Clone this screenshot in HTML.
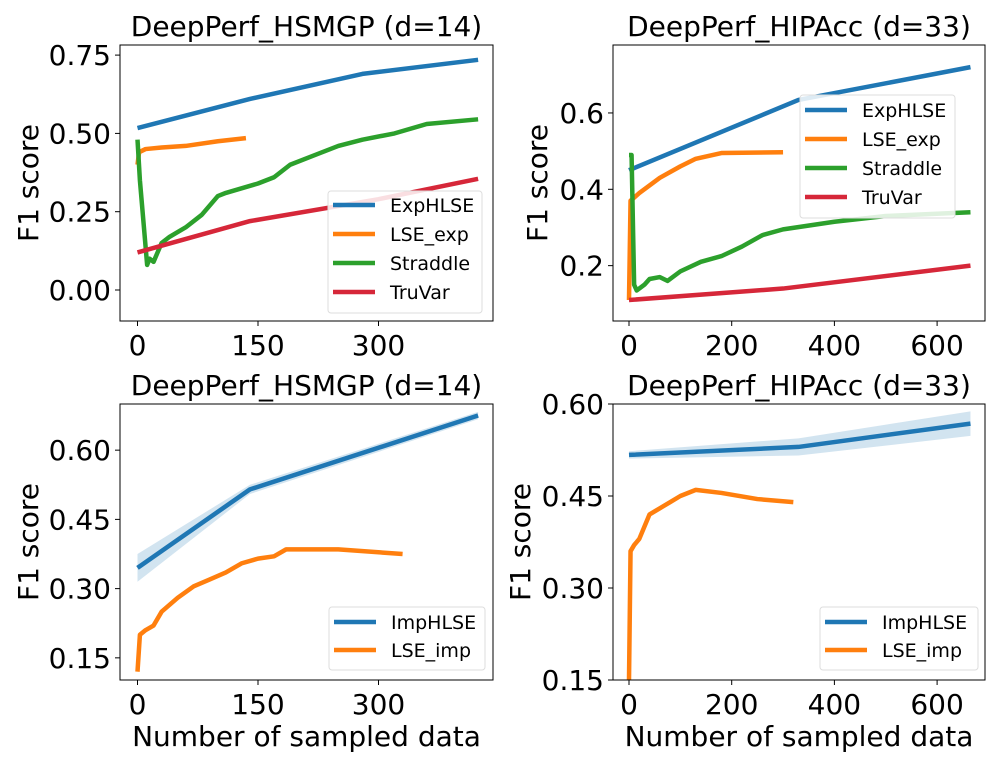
<!DOCTYPE html>
<html><head><meta charset="utf-8">
<style>
html,body{margin:0;padding:0;background:#fff;}
svg{display:block;font-family:"DejaVu Sans","Liberation Sans",sans-serif;}
</style></head>
<body>
<svg id="fig" width="1000" height="759" viewBox="0 0 1000 759" xmlns="http://www.w3.org/2000/svg"></svg>
<script>
// ---------- data ----------
const p1ExpX=[0,140,280,424], p1ExpY=[0.517,0.61,0.69,0.735];
const p1LseX=[0,2,10,30,60,100,135], p1LseY=[0.40,0.44,0.45,0.455,0.46,0.475,0.485];
const p1StrX=[0,3,8,12,15,20,30,40,60,80,100,110,150,170,190,220,250,280,320,360,424];
const p1StrY=[0.48,0.35,0.2,0.08,0.1,0.09,0.15,0.17,0.2,0.24,0.3,0.31,0.34,0.36,0.4,0.43,0.46,0.48,0.5,0.53,0.545];
const p1TruX=[0,140,300,424], p1TruY=[0.12,0.22,0.29,0.355];

const p2ExpX=[0,330,665], p2ExpY=[0.45,0.634,0.72];
const p2LseX=[0,3,20,60,100,130,180,300], p2LseY=[0.11,0.37,0.39,0.43,0.46,0.48,0.495,0.497];
const p2StrX=[0,5,10,15,30,40,60,75,100,140,180,220,260,300,400,500,665];
const p2StrY=[0.49,0.49,0.15,0.135,0.15,0.165,0.17,0.16,0.185,0.21,0.225,0.25,0.28,0.295,0.315,0.33,0.34];
const p2TruX=[0,300,665], p2TruY=[0.11,0.14,0.2];

const p3ImpX=[0,140,424], p3ImpY=[0.345,0.515,0.675], p3ImpBand=[0.03,0.01,0.008];
const p3LseX=[0,3,10,20,30,50,70,90,110,130,150,170,185,250,330];
const p3LseY=[0.12,0.2,0.21,0.22,0.25,0.28,0.305,0.32,0.335,0.355,0.365,0.37,0.385,0.385,0.375];

const p4ImpX=[0,330,665], p4ImpY=[0.517,0.53,0.568], p4ImpBand=[0.006,0.014,0.02];
const p4LseX=[0,3,10,20,40,60,80,100,130,180,250,320];
const p4LseY=[0.15,0.36,0.37,0.38,0.42,0.43,0.44,0.45,0.46,0.455,0.445,0.44];

const xTicksA=[0,150,300], xTicksB=[0,200,400,600];
const yTicks1=["0.00","0.25","0.50","0.75"], yTicks2=["0.2","0.4","0.6"];
const yTicks3=["0.15","0.30","0.45","0.60"];

const BLUE="#1f77b4",ORANGE="#ff7f0e",GREEN="#2ca02c",RED="#d62739";
const NS="http://www.w3.org/2000/svg";
const svg=document.getElementById('fig');
function mk(tag,attrs,parent){const e=document.createElementNS(NS,tag);for(const k in attrs)e.setAttribute(k,attrs[k]);(parent||svg).appendChild(e);return e;}

function panel(cfg){
  const g=mk('g',{});
  
  
  const sx=v=>cfg.x0+(v-cfg.xmin)/(cfg.xmax-cfg.xmin)*(cfg.x1-cfg.x0);
  const sy=v=>cfg.y1-(v-cfg.ymin)/(cfg.ymax-cfg.ymin)*(cfg.y1-cfg.y0);
  const t=mk('text',{x:(cfg.x0+cfg.x1)/2,y:cfg.y0-9,'text-anchor':'middle','font-size':28,fill:'#000'},g);
  t.textContent=cfg.title;
  
  
  const yl=mk('text',{x:0,y:0,'text-anchor':'middle','font-size':28,transform:`translate(${cfg.ylx},${(cfg.y0+cfg.y1)/2}) rotate(-90)`},g);
  yl.textContent='F1 score';
  
  
  if(cfg.xlabel){
    const xl=mk('text',{x:(cfg.x0+cfg.x1)/2,y:746,'text-anchor':'middle','font-size':28},g);
    xl.textContent=cfg.xlabel;
    
    
  }
  cfg.xticks.forEach(v=>{
    const X=sx(v);
    mk('line',{x1:X,x2:X,y1:cfg.y1,y2:cfg.y1+5,stroke:'#000','stroke-width':1},g);
    const tl=mk('text',{x:X,y:cfg.y1+34,'text-anchor':'middle','font-size':28},g);
    tl.textContent=String(v);
    
    
  });
  cfg.yticks.forEach(s=>{
    const Y=sy(parseFloat(s));
    mk('line',{x1:cfg.x0-5,x2:cfg.x0,y1:Y,y2:Y,stroke:'#000','stroke-width':1},g);
    const tl=mk('text',{x:cfg.x0-9,y:Y+10,'text-anchor':'end','font-size':28},g);
    tl.textContent=s;
    
    
  });
  cfg.series.forEach(s=>{
    if(s.band){
      const up=s.xs.map((x,i)=>sx(x)+','+sy(s.ys[i]+s.band[i]));
      const dn=s.xs.map((x,i)=>sx(x)+','+sy(s.ys[i]-s.band[i])).reverse();
      const b=mk('polygon',{points:up.concat(dn).join(' '),fill:s.color,'fill-opacity':0.2,stroke:'none'},g);
      
      
    }
    const pts=s.xs.map((x,i)=>sx(x)+','+sy(s.ys[i])).join(' ');
    const p=mk('polyline',{points:pts,fill:'none',stroke:s.color,'stroke-width':4.5,'stroke-linejoin':'round'},g);
    
    
  });
  const fr=mk('rect',{x:cfg.x0,y:cfg.y0,width:cfg.x1-cfg.x0,height:cfg.y1-cfg.y0,fill:'none',stroke:'#000','stroke-width':1},g);
  
  
  const L=cfg.legend;
  const lg=mk('g',{},g);
  
  
  mk('rect',{x:L.x,y:L.y,width:L.w,height:L.h,rx:3,fill:'#fff','fill-opacity':0.85,stroke:'#ddd'},lg);
  cfg.series.forEach((s,i)=>{
    const Y=L.y+L.first+i*L.step;
    const e=mk('g',{},lg);
    
    
    mk('line',{x1:L.x+5,x2:L.x+47,y1:Y,y2:Y,stroke:s.color,'stroke-width':4.5},e);
    const tt=mk('text',{x:L.x+62,y:Y+7,'font-size':19},e);
    tt.textContent=s.label;
  });
}

panel({name:'panel-hsmgp-exp',title:'DeepPerf_HSMGP (d=14)',x0:120,x1:493,y0:45,y1:321,xmin:(120-137.5)/0.8033,xmax:(493-137.5)/0.8033,ymin:(290-321)/313.2,ymax:(290-45)/313.2,ylx:38,
 xticks:xTicksA,yticks:yTicks1,
 series:[{id:'exphlse',label:'ExpHLSE',color:BLUE,xs:p1ExpX,ys:p1ExpY},
         {id:'lse-exp',label:'LSE_exp',color:ORANGE,xs:p1LseX,ys:p1LseY},
         {id:'straddle',label:'Straddle',color:GREEN,xs:p1StrX,ys:p1StrY},
         {id:'truvar',label:'TruVar',color:RED,xs:p1TruX,ys:p1TruY}],
 legend:{x:328,y:191,w:154,h:122,first:14,step:29}});

panel({name:'panel-hipacc-exp',title:'DeepPerf_HIPAcc (d=33)',x0:613,x1:985,y0:45,y1:321,xmin:(613-629)/0.5135,xmax:(985-629)/0.5135,ymin:0.055,ymax:0.778,ylx:547,
 xticks:xTicksB,yticks:yTicks2,
 series:[{id:'exphlse',label:'ExpHLSE',color:BLUE,xs:p2ExpX,ys:p2ExpY},
         {id:'lse-exp',label:'LSE_exp',color:ORANGE,xs:p2LseX,ys:p2LseY},
         {id:'straddle',label:'Straddle',color:GREEN,xs:p2StrX,ys:p2StrY},
         {id:'truvar',label:'TruVar',color:RED,xs:p2TruX,ys:p2TruY}],
 legend:{x:800,y:95,w:155,h:123,first:15,step:29}});

panel({name:'panel-hsmgp-imp',title:'DeepPerf_HSMGP (d=14)',x0:120,x1:493,y0:404,y1:680,xmin:(120-137.5)/0.8033,xmax:(493-137.5)/0.8033,ymin:0.102,ymax:0.70,ylx:38,xlabel:'Number of sampled data',
 xticks:xTicksA,yticks:yTicks3,
 series:[{id:'imphlse',label:'ImpHLSE',color:BLUE,xs:p3ImpX,ys:p3ImpY,band:p3ImpBand},
         {id:'lse-imp',label:'LSE_imp',color:ORANGE,xs:p3LseX,ys:p3LseY}],
 legend:{x:329,y:607,w:156,h:63,first:15,step:28}});

panel({name:'panel-hipacc-imp',title:'DeepPerf_HIPAcc (d=33)',x0:613,x1:985,y0:404,y1:680,xmin:(613-629)/0.5135,xmax:(985-629)/0.5135,ymin:0.15,ymax:0.60,ylx:530,xlabel:'Number of sampled data',
 xticks:xTicksB,yticks:yTicks3,
 series:[{id:'imphlse',label:'ImpHLSE',color:BLUE,xs:p4ImpX,ys:p4ImpY,band:p4ImpBand},
         {id:'lse-imp',label:'LSE_imp',color:ORANGE,xs:p4LseX,ys:p4LseY}],
 legend:{x:820,y:607,w:158,h:63,first:15,step:28}});
</script>
</body></html>
